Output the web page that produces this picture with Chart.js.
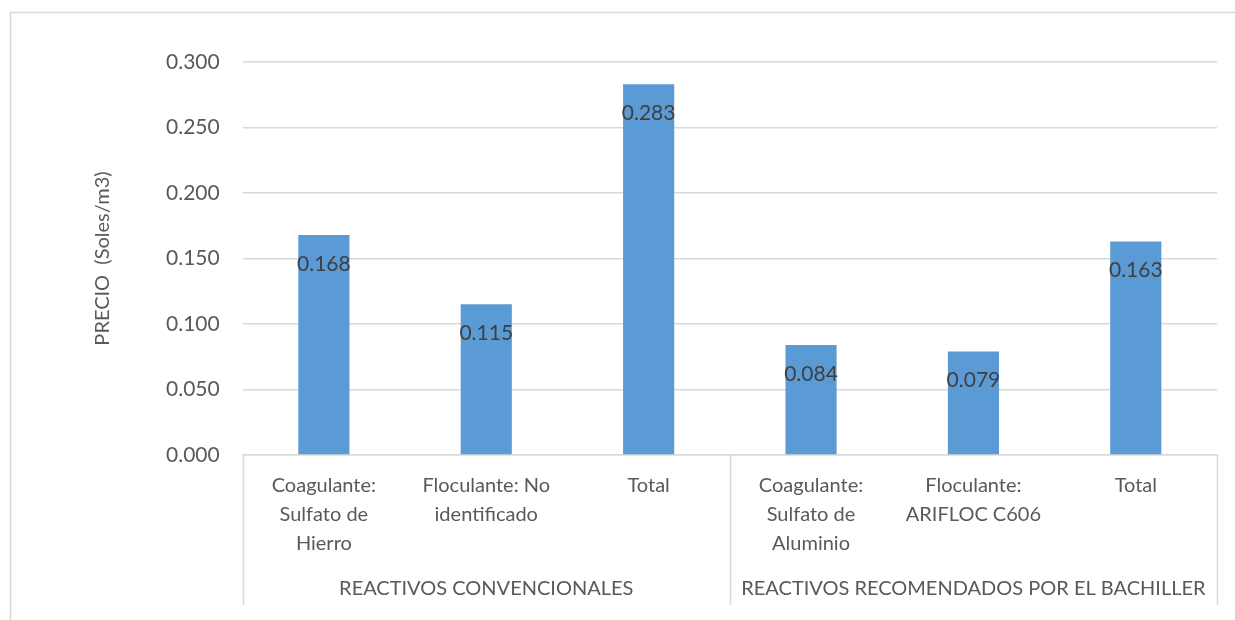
<!DOCTYPE html>
<html>
<head>
<meta charset="utf-8">
<script src="https://cdn.jsdelivr.net/npm/chart.js@4.4.1/dist/chart.umd.min.js"></script>
<style>
  html, body { margin: 0; padding: 0; background: #fff; }
  #wrap { width: 1235px; height: 620px; position: relative; }
</style>
</head>
<body>
<div id="wrap"><canvas id="precio" width="1235" height="620"></canvas></div>
<script>
// reactivos y su precio por m3
const categorias = [
  ['Coagulante:', 'Sulfato de', 'Hierro'],
  ['Floculante: No', 'identificado'],
  ['Total'],
  ['Coagulante:', 'Sulfato de', 'Aluminio'],
  ['Floculante:', 'ARIFLOC C606'],
  ['Total']
];
const grupos = ['REACTIVOS CONVENCIONALES', 'REACTIVOS RECOMENDADOS POR EL BACHILLER'];
const precios = [0.168, 0.115, 0.283, 0.084, 0.079, 0.163];
const porGrupo = 3;

const FUENTE = 'Lato, "Open Sans", sans-serif';
const GRIS = '#d9d9d9';

// marco del grafico (solo arriba y a la izquierda se ven)
const marco = {
  id: 'marco',
  beforeDraw(chart) {
    const ctx = chart.ctx;
    ctx.save();
    ctx.fillStyle = '#fff';
    ctx.fillRect(0, 0, chart.width, chart.height);
    ctx.strokeStyle = GRIS;
    ctx.lineWidth = 1.5;
    ctx.beginPath();
    ctx.moveTo(10.5, chart.height);
    ctx.lineTo(10.5, 12.5);
    ctx.lineTo(chart.width, 12.5);
    ctx.stroke();
    ctx.restore();
  }
};

// lineas verticales que separan los grupos del eje x
const separadores = {
  id: 'separadores',
  afterDraw(chart) {
    const x = chart.scales.x;
    const x2 = chart.scales.x2;
    const paso = (x.getPixelForValue(1) - x.getPixelForValue(0));
    const ctx = chart.ctx;
    ctx.save();
    ctx.strokeStyle = GRIS;
    ctx.lineWidth = 1.5;
    for (let g = 0; g <= grupos.length; g++) {
      const px = Math.round(x.getPixelForValue(g * porGrupo) - paso / 2) + 0.5;
      ctx.beginPath();
      ctx.moveTo(px, x.top);
      ctx.lineTo(px, x2.bottom);
      ctx.stroke();
    }
    ctx.restore();
  }
};

// etiquetas de valor dentro del extremo de cada barra
const etiquetas = {
  id: 'etiquetas',
  afterDatasetsDraw(chart) {
    const ctx = chart.ctx;
    const meta = chart.getDatasetMeta(0);
    ctx.save();
    ctx.font = '21px ' + FUENTE;
    ctx.fillStyle = '#404040';
    ctx.textAlign = 'center';
    ctx.textBaseline = 'middle';
    meta.data.forEach((bar, i) => {
      ctx.fillText(precios[i].toFixed(3), bar.x, bar.y + 29);
    });
    ctx.restore();
  }
};

new Chart(document.getElementById('precio'), {
  type: 'bar',
  data: {
    labels: categorias,
    datasets: [{
      data: precios,
      backgroundColor: '#5b9bd5',
      borderWidth: 0,
      barPercentage: 0.315,
      categoryPercentage: 1
    }]
  },
  options: {
    responsive: false,
    animation: false,
    layout: { padding: { top: 62, right: 18, bottom: 15, left: 91 } },
    plugins: {
      legend: { display: false },
      tooltip: { enabled: false }
    },
    scales: {
      y: {
        min: 0,
        max: 0.3,
        ticks: {
          stepSize: 0.05,
          color: '#595959',
          font: { family: FUENTE, size: 21 },
          padding: 23,
          callback: v => v.toFixed(3)
        },
        grid: { color: GRIS, lineWidth: 1.5, drawTicks: false },
        border: { display: false },
        title: {
          display: true,
          text: 'PRECIO  (Soles/m3)',
          color: '#595959',
          font: { family: FUENTE, size: 20 },
          padding: { top: 0, bottom: 28 }
        }
      },
      x: {
        ticks: {
          color: '#595959',
          font: { family: FUENTE, size: 20, lineHeight: 1.45 },
          padding: 16,
          maxRotation: 0,
          autoSkip: false
        },
        grid: { display: false, drawTicks: false },
        border: { display: true, color: GRIS, width: 1.5 },
        afterFit: s => { s.height = 98; }
      },
      x2: {
        type: 'category',
        labels: grupos,
        position: 'bottom',
        offset: true,
        ticks: {
          color: '#595959',
          font: { family: FUENTE, size: 20 },
          padding: 24,
          maxRotation: 0,
          autoSkip: false
        },
        grid: { display: false, drawTicks: false },
        border: { display: false },
        afterFit: s => { s.height = 52; }
      }
    }
  },
  plugins: [marco, separadores, etiquetas]
});
</script>
</body>
</html>
